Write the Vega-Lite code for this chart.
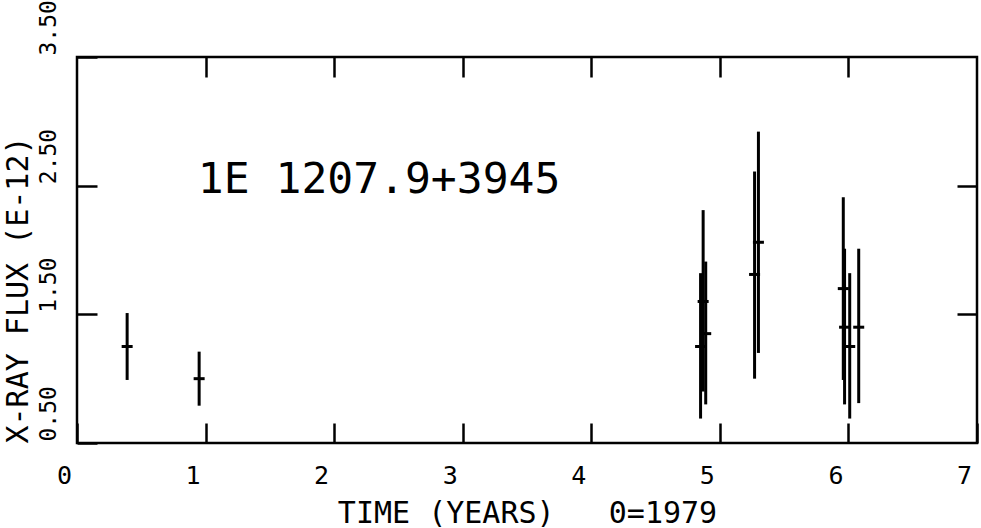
{
  "$schema": "https://vega.github.io/schema/vega-lite/v6.json",
  "width": 900,
  "height": 386,
  "padding": {"left": 77, "top": 57, "right": 4, "bottom": 85},
  "autosize": {"type": "none"},
  "background": "white",
  "config": {
    "font": "DejaVu Sans Mono",
    "view": {"stroke": "black", "strokeWidth": 2.5},
    "axis": {"domain": false, "grid": false, "tickColor": "black", "labelColor": "black", "titleColor": "black", "tickWidth": 2.5, "labelFont": "DejaVu Sans Mono", "titleFont": "DejaVu Sans Mono", "titleFontWeight": "normal"}
  },
  "datasets": {
    "obs": [
      {"t": 0.39, "flux": 1.25, "lo": 0.99, "hi": 1.51},
      {"t": 0.95, "flux": 1.00, "lo": 0.79, "hi": 1.21},
      {"t": 4.85, "flux": 1.25, "lo": 0.69, "hi": 1.82},
      {"t": 4.87, "flux": 1.60, "lo": 0.90, "hi": 2.31},
      {"t": 4.89, "flux": 1.35, "lo": 0.80, "hi": 1.91},
      {"t": 5.27, "flux": 1.81, "lo": 1.00, "hi": 2.61},
      {"t": 5.30, "flux": 2.06, "lo": 1.20, "hi": 2.92},
      {"t": 5.96, "flux": 1.70, "lo": 0.99, "hi": 2.41},
      {"t": 5.97, "flux": 1.40, "lo": 0.80, "hi": 2.01},
      {"t": 6.01, "flux": 1.25, "lo": 0.69, "hi": 1.82},
      {"t": 6.08, "flux": 1.40, "lo": 0.81, "hi": 2.01}
    ],
    "lbl": [{"name": "1E 1207.9+3945", "t": 0.94, "f": 2.44}]
  },
  "layer": [
    {
      "data": {"name": "obs"},
      "mark": {"type": "rule", "color": "black", "strokeWidth": 3},
      "encoding": {
        "x": {"field": "t", "type": "quantitative", "scale": {"domain": [0, 7], "nice": false, "zero": false},
          "axis": {"orient": "bottom", "values": [0, 1, 2, 3, 4, 5, 6, 7], "format": "d", "tickSize": -20, "labelPadding": 40, "labelOffset": -13, "labelFontSize": 25, "labelFlush": false, "labelOverlap": false, "labelBound": false,
            "title": "TIME (YEARS)\u00a0\u00a0\u00a00=1979", "titleFontSize": 30, "titlePadding": 10}},
        "y": {"field": "lo", "type": "quantitative", "scale": {"domain": [0.5, 3.5], "nice": false, "zero": false},
          "axis": {"orient": "left", "values": [0.5, 1.5, 2.5, 3.5], "format": ".2f", "tickSize": -20, "labelPadding": 42, "labelOffset": -2, "labelFontSize": 23, "labelAngle": -90, "labelAlign": "left", "labelBaseline": "alphabetic", "labelFlush": false, "labelOverlap": false, "labelBound": false,
            "title": "X-RAY FLUX (E-12)", "titleFontSize": 30, "titleAngle": -90, "titleAnchor": "start", "titleAlign": "left", "titlePadding": 4}},
        "y2": {"field": "hi"}
      }
    },
    {
      "data": {"name": "obs"},
      "mark": {"type": "tick", "orient": "horizontal", "color": "black", "opacity": 1, "size": 11, "thickness": 3},
      "encoding": {
        "x": {"field": "t", "type": "quantitative", "scale": {"domain": [0, 7], "nice": false, "zero": false},
          "axis": {"orient": "top", "values": [1, 2, 3, 4, 5, 6], "tickSize": -20, "labels": false, "title": null}},
        "y": {"field": "flux", "type": "quantitative", "scale": {"domain": [0.5, 3.5], "nice": false, "zero": false},
          "axis": {"orient": "right", "values": [1.5, 2.5], "tickSize": -20, "labels": false, "title": null}}
      }
    },
    {
      "data": {"name": "lbl"},
      "mark": {"type": "text", "align": "left", "baseline": "alphabetic", "fontSize": 43, "font": "DejaVu Sans Mono", "color": "black"},
      "encoding": {
        "x": {"field": "t", "type": "quantitative", "axis": null},
        "y": {"field": "f", "type": "quantitative", "axis": null},
        "text": {"field": "name"}
      }
    }
  ],
  "resolve": {"axis": {"x": "independent", "y": "independent"}}
}
